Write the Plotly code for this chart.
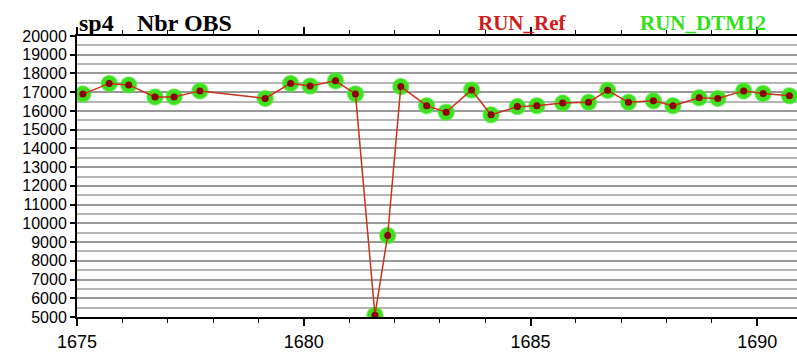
import plotly.graph_objects as go

years = [1675.13, 1675.71, 1676.14, 1676.72, 1677.14, 1677.71, 1679.15, 1679.71,
         1680.14, 1680.70, 1681.14, 1681.57, 1681.85, 1682.14, 1682.71, 1683.14,
         1683.70, 1684.13, 1684.71, 1685.14, 1685.71, 1686.28, 1686.70, 1687.16,
         1687.71, 1688.14, 1688.72, 1689.13, 1689.70, 1690.13, 1690.71]
nbr_obs = [16900, 17470, 17390, 16750, 16750, 17070, 16670, 17470,
           17330, 17610, 16910, 5100, 9350, 17300, 16280, 15930,
           17120, 15790, 16230, 16280, 16420, 16460, 17100, 16460,
           16540, 16280, 16700, 16670, 17070, 16930, 16810]
ref_level = 15500

L, T, W, H = 77, 36, 797, 352
PW, PH = W - L, 320 - T

def px(xp):
    return (xp - L) / PW

def py(yp):
    return 1 + (T - yp) / PH

fig = go.Figure()
fig.add_trace(go.Scatter(x=years, y=nbr_obs, mode="markers",
                         marker=dict(size=16, color="#3ee01e",
                                     line=dict(width=1.5, color="rgba(80,235,60,0.6)")),
                         cliponaxis=True, showlegend=False, name="RUN_DTM12"))
fig.add_trace(go.Scatter(x=years, y=nbr_obs, mode="lines+markers",
                         line=dict(color="#c8321e", width=1.5),
                         marker=dict(size=7, color="#8b0000"),
                         cliponaxis=True, showlegend=False, name="RUN_Ref"))

fig.add_shape(type="line", xref="paper", x0=0, x1=1, yref="y", y0=ref_level, y1=ref_level,
              line=dict(color="black", width=1.5), layer="below")

tfont = "Liberation Serif"
anns = [("sp4", 78, "black", 24), ("Nbr OBS", 136, "black", 24),
        ("RUN_Ref", 477, "#d01c1c", 21), ("RUN_DTM12", 639, "#33e01a", 21)]
for txt, xp, col, fs in anns:
    fig.add_annotation(text="<b>%s</b>" % txt, xref="paper", yref="paper",
                       x=px(xp), y=py(23), xanchor="left", yanchor="middle",
                       showarrow=False, borderpad=0,
                       font=dict(family=tfont, size=fs, color=col))

fig.update_layout(
    width=W, height=H, margin=dict(l=L, r=0, t=T, b=H - 320),
    paper_bgcolor="white", plot_bgcolor="white",
    font=dict(family="Liberation Sans", size=18, color="black"),
    xaxis=dict(range=[1675, 1675 + PW / 45.35], tick0=1675, dtick=5,
               tickformat="d",
               showgrid=False, zeroline=False, showline=True, linecolor="black",
               linewidth=2, mirror="ticks", ticks="outside", ticklen=7,
               tickwidth=1.5, tickcolor="black",
               minor=dict(dtick=1, ticks="outside", ticklen=4, tickwidth=1,
                          tickcolor="black", showgrid=False)),
    yaxis=dict(range=[5000, 20000], tick0=5000, dtick=1000, tickformat="d",
               tickfont=dict(size=16),
               showgrid=True, gridcolor="#999999", gridwidth=1.5,
               zeroline=False, showline=True, linecolor="black", linewidth=2,
               ticks="outside", ticklen=5, tickwidth=1.5, tickcolor="black",
               minor=dict(dtick=500, showgrid=True, gridcolor="#b5b5b5",
                          gridwidth=1.5, ticks="")),
)

fig.write_html("out.html")
